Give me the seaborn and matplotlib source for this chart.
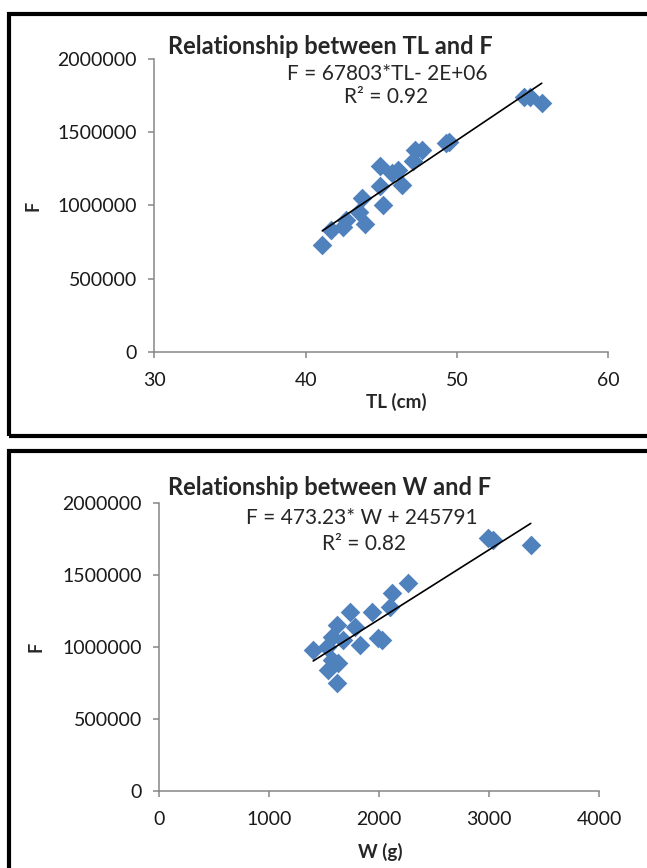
import numpy as np
import matplotlib.pyplot as plt
import seaborn as sns
from matplotlib.patches import Rectangle

sns.set_style('white')
plt.rcParams['font.family'] = ['Lato', 'DejaVu Sans']

# total length (cm) vs fecundity
tl = [41.1, 41.7, 42.5, 42.7, 43.9, 43.7, 45.1, 44.9, 44.9, 45.7, 46.1,
      46.4, 47.1, 47.2, 47.7, 43.5, 49.3, 49.5, 54.4, 54.8, 55.6]
f_tl = [731000, 834000, 856000, 902000, 876000, 1053000, 1005000, 1267000,
        1130000, 1224000, 1244000, 1142000, 1301000, 1382000, 1382000,
        956000, 1430000, 1436000, 1745000, 1745000, 1703000]

# weight (g) vs fecundity
w = [1400, 1567, 1627, 1613, 1536, 1567, 1613, 1734, 1779, 1825, 1931,
     1991, 2022, 2097, 2113, 2264, 1522, 1673, 2991, 3036, 3379]
f_w = [977000, 908000, 885000, 746000, 838000, 1069000, 1151000, 1243000,
       1139000, 1012000, 1243000, 1058000, 1046000, 1278000, 1371000,
       1440000, 1000000, 1046000, 1753000, 1741000, 1706000]

W, H = 647, 868
fig = plt.figure(figsize=(W / 100, H / 100), dpi=100)


def px_axes(left, top, right, bottom):
    return fig.add_axes([left / W, 1 - bottom / H, (right - left) / W, (bottom - top) / H])


def frame(left, top, bottom):
    fig.add_artist(Rectangle((left / W, 1 - bottom / H), 1.2, (bottom - top) / H,
                             transform=fig.transFigure, fill=False,
                             edgecolor='black', linewidth=3, clip_on=False))


blue = '#4F81BD'
gray = '#868686'


def style(ax):
    sns.despine(ax=ax)
    for s in ['left', 'bottom']:
        ax.spines[s].set_color(gray)
        ax.spines[s].set_linewidth(1.1)
    ax.tick_params(direction='out', length=4.5, width=1.1, color=gray,
                   labelsize=14, labelcolor='#1a1a1a', left=True, bottom=True)
    ax.tick_params(axis='x', pad=10)
    ax.tick_params(axis='y', pad=8)
    ax.set_ylim(0, 2000000)
    ax.set_yticks([0, 500000, 1000000, 1500000, 2000000])
    ax.set_yticklabels(['0', '500000', '1000000', '1500000', '2000000'])


frame(9, 14, 436)
frame(9, 451, 880)

# top chart
ax1 = px_axes(154.3, 59.3, 608.3, 351.7)
sns.regplot(x=tl, y=f_tl, ax=ax1, ci=None, marker='D',
            scatter_kws={'s': 100, 'color': blue, 'alpha': 1, 'linewidths': 0},
            line_kws={'color': 'black', 'linewidth': 1.2})
style(ax1)
ax1.set_xlim(30, 60)
ax1.set_xticks([30, 40, 50, 60])
ax1.set_xlabel('TL (cm)', fontsize=13.5, fontweight='bold')
ax1.xaxis.set_label_coords((396 - 154.3) / 454, -(402 - 351.7) / 292.4)
ax1.xaxis.label.set_va('center')
ax1.set_ylabel('F', fontsize=13, fontweight='bold')
ax1.yaxis.set_label_coords(-(154.3 - 33) / 454, 0.5)
ax1.yaxis.label.set_va('center')
fig.text(168 / W, 1 - 46 / H, 'Relationship between TL and F', fontsize=17,
         fontweight='bold', va='center', ha='left')
fig.text(387 / W, 1 - 74 / H, 'F = 67803*TL- 2E+06', fontsize=15, ha='center', va='center')
fig.text(386 / W, 1 - 97 / H, 'R² = 0.92', fontsize=15, ha='center', va='center')

# bottom chart
ax2 = px_axes(159.3, 502.7, 599, 790.7)
sns.regplot(x=w, y=f_w, ax=ax2, ci=None, marker='D',
            scatter_kws={'s': 100, 'color': blue, 'alpha': 1, 'linewidths': 0},
            line_kws={'color': 'black', 'linewidth': 1.2})
style(ax2)
ax2.set_xlim(0, 4000)
ax2.set_xticks([0, 1000, 2000, 3000, 4000])
ax2.set_xlabel('W (g)', fontsize=13.5, fontweight='bold')
ax2.xaxis.set_label_coords((380 - 159.3) / 439.7, -(852 - 790.7) / 288)
ax2.xaxis.label.set_va('center')
ax2.set_ylabel('F', fontsize=13, fontweight='bold')
ax2.yaxis.set_label_coords(-(159.3 - 36) / 439.7, 0.5)
ax2.yaxis.label.set_va('center')
fig.text(168 / W, 1 - 487 / H, 'Relationship between W and F', fontsize=17,
         fontweight='bold', va='center', ha='left')
fig.text(362 / W, 1 - 518 / H, 'F = 473.23* W + 245791', fontsize=15, ha='center', va='center')
fig.text(364 / W, 1 - 544 / H, 'R² = 0.82', fontsize=15, ha='center', va='center')

plt.savefig('out.png', dpi=100)
